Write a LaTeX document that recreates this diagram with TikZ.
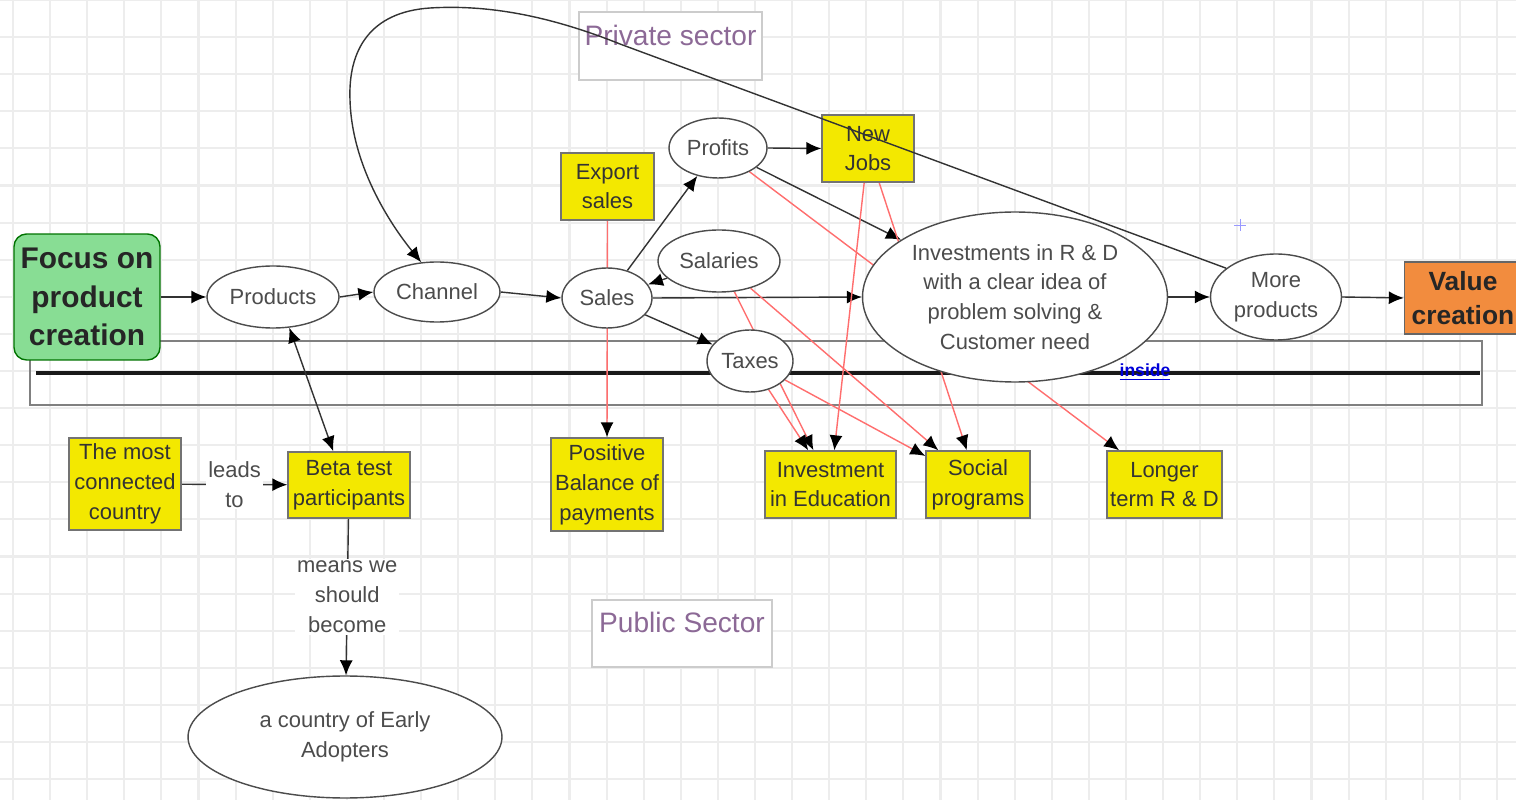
\documentclass[tikz,border=0pt]{standalone}
\usepackage{fontspec}
\setmainfont{Liberation Sans}
\usepackage{xcolor}
\usetikzlibrary{shapes.geometric,arrows.meta}
\definecolor{boxyellow}{RGB}{243,232,0}
\definecolor{focusgreen}{RGB}{136,221,148}
\definecolor{valueorange}{RGB}{242,140,62}
\definecolor{redlink}{RGB}{255,110,110}
\definecolor{sectortext}{RGB}{140,105,150}
\pgfdeclarelayer{bg}
\pgfsetlayers{bg,main}

\begin{document}
\begin{tikzpicture}[x=0.02cm, y=-0.02cm,
    ell/.style={shape=ellipse, draw=black!70, fill=white, line width=0.8pt, inner sep=0pt, align=center, text=black!70, font=\fontsize{12.5}{17}\selectfont},
    ybox/.style={shape=rectangle, draw=black!55, fill=boxyellow, line width=0.8pt, inner sep=0pt, align=center, text=black!80, font=\fontsize{12.5}{17}\selectfont},
    sector/.style={shape=rectangle, draw=black!20, line width=0.8pt, fill=white},
    arr/.style={draw=black!80, line width=0.8pt, -{Latex[color=black,length=3mm,width=2.6mm]}},
    redarr/.style={draw=redlink, line width=0.8pt, -{Latex[color=black,length=3mm,width=2.6mm]}},
    lbl/.style={fill=white, inner sep=1pt, align=center, text=black!70, font=\fontsize{12.5}{17}\selectfont},
    gridline/.style={draw=black!7, line width=1.2pt}]
    \useasboundingbox (0,0) rectangle (1516,800);

    % main chain
    \node[draw=black!55!green, fill=focusgreen, rounded corners=0.25cm, line width=0.8pt, minimum width=2.92cm, minimum height=2.52cm, inner sep=0pt, align=center, text=black!85, font=\fontsize{17}{22}\selectfont\bfseries] (focus) at (87,297) {Focus on\\product\\creation};
    \node[ell, minimum width=2.64cm, minimum height=1.24cm] (prod) at (273,297) {Products};
    \node[ell, minimum width=2.52cm, minimum height=1.2cm] (chan) at (437,292) {Channel};
    \node[ell, minimum width=1.8cm, minimum height=1.2cm] (sales) at (607,298) {Sales};
    \node[ell, minimum width=1.96cm, minimum height=1.2cm] (profits) at (718,148) {Profits};
    \node[ell, minimum width=2.44cm, minimum height=1.24cm] (salaries) at (719,261) {Salaries};
    \node[ell, minimum width=1.72cm, minimum height=1.24cm] (taxes) at (750,361) {Taxes};
    \node[ell, minimum width=6.1cm, minimum height=3.4cm] (invest) at (1015,297) {Investments in R \& D\\with a clear idea of\\problem solving \&\\Customer need};
    \node[ell, minimum width=2.62cm, minimum height=1.72cm] (more) at (1276,297) {More\\products};
    \node[draw=black!60, fill=valueorange, line width=0.8pt, minimum width=2.34cm, minimum height=1.44cm, inner sep=0pt, align=center, text=black!85, font=\fontsize{15}{19}\selectfont\bfseries] (value) at (1463,298) {Value\\creation};

    % yellow boxes
    \node[ybox, minimum width=1.86cm, minimum height=1.34cm] (export) at (607.5,186.5) {Export\\sales};
    \node[ybox, minimum width=1.84cm, minimum height=1.34cm] (jobs) at (868,148.5) {New\\Jobs};
    \node[ybox, minimum width=2.24cm, minimum height=1.86cm] (pos) at (607,484.5) {Positive\\Balance of\\payments};
    \node[ybox, minimum width=2.62cm, minimum height=1.34cm] (edu) at (830.5,484.5) {Investment\\in Education};
    \node[ybox, minimum width=2.08cm, minimum height=1.34cm] (social) at (978,484.5) {Social\\programs};
    \node[ybox, minimum width=2.3cm, minimum height=1.34cm] (longer) at (1164.5,484.5) {Longer\\term R \& D};
    \node[ybox, minimum width=2.24cm, minimum height=1.84cm] (most) at (125,484) {The most\\connected\\country};
    \node[ybox, minimum width=2.44cm, minimum height=1.32cm] (beta) at (349,485) {Beta test\\participants};
    \node[ell, minimum width=6.28cm, minimum height=2.44cm] (early) at (345,737) {a country of Early\\Adopters};

    % sector labels
    \node[sector, minimum width=3.66cm, minimum height=1.36cm] (privbox) at (670.5,46) {};
    \node[text=sectortext, font=\fontsize{16}{18}\selectfont] (private) at (670.5,35) {Private sector};
    \node[sector, minimum width=3.6cm, minimum height=1.34cm] (pubbox) at (682,633.5) {};
    \node[text=sectortext, font=\fontsize{16}{18}\selectfont] (public) at (682,622) {Public Sector};
    \node[text=blue!85!black, inner sep=0pt, font=\fontsize{10}{11}\selectfont\bfseries] (inside) at (1145,372) {\underline{inside}};
    \draw[blue!40, line width=0.5pt] (1234,225) -- (1246,225) (1240,219) -- (1240,231);

    \begin{pgfonlayer}{bg}
    \fill[white] (0,0) rectangle (1516,800);
    \foreach \i in {0,...,40}
        \draw[gridline] ({13+37.1*\i},0) -- ({13+37.1*\i},800);
    \foreach \j in {0,...,21}
        \draw[gridline] (0,{37.1*\j}) -- (1516,{37.1*\j});
    % band
    \draw[black!50, line width=1pt] (30,341) rectangle (1482,405);
    \draw[black!90, line width=2.6pt] (36,373) -- (1480,373);

    \draw[arr] (focus.east) -- (prod.west);
    \draw[arr] (prod.east) -- (chan.west);
    \draw[arr] (chan.east) -- (sales.west);
    \draw[arr] (sales) -- (profits);
    \draw[arr] (salaries) -- (sales);
    \draw[arr] (sales.east) -- (invest.west);
    \draw[arr] (sales) -- (taxes);
    \draw[arr] (profits.east) -- (jobs.west);
    \draw[arr] (profits) -- (invest);
    \draw[arr] (invest.east) -- (more.west);
    \draw[arr] (more.east) -- (value.west);
    \draw[arr, {Latex[color=black,length=3mm,width=2.6mm]}-{Latex[color=black,length=3mm,width=2.6mm]}] (prod.298) -- (beta.115);
    \draw[arr] (most) -- node[lbl] {leads\\to} (beta);
    \draw[arr] (beta) -- node[lbl] {means we\\should\\become} (early);

    \draw[redarr] (export.south) -- (pos.north);
    \draw[redarr] (profits) -- (longer);
    \draw[redarr] (jobs) -- (social);
    \draw[redarr] (jobs) -- (edu);
    \draw[redarr] (salaries) -- (edu);
    \draw[redarr] (salaries) -- (social);
    \draw[redarr] (taxes) -- (edu);
    \draw[redarr] (taxes) -- (social);
    \end{pgfonlayer}

    % loop back over the top
    \draw[arr] (more.150) -- (620,44) .. controls (540,12) and (480,5) .. (430,8)
        .. controls (370,12) and (348,50) .. (350,100)
        .. controls (352,170) and (395,230) .. (chan.118);
\end{tikzpicture}
\end{document}
